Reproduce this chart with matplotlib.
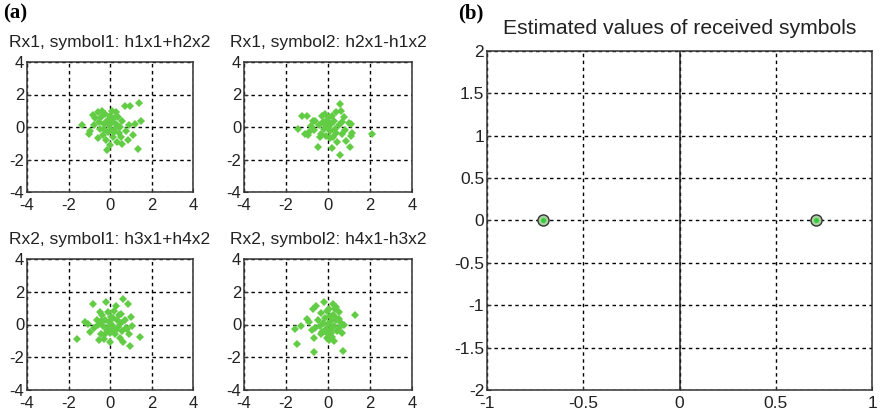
import matplotlib.pyplot as plt

# scatter data
rx1_s1 = [(-1.35, 0.1), (-1.0, -0.4), (-0.95, -0.25), (-0.8, 0.75), (-0.7, 0.55), (-0.6, 0.9),
          (-0.55, 0.3), (-0.5, -0.1), (-0.45, 0.6), (-0.4, 1.0), (-0.35, -0.5), (-0.3, 0.2),
          (-0.25, 0.8), (-0.2, -0.8), (-0.15, -1.4), (-0.1, 0.45), (-0.1, -0.3), (-0.05, 0.1),
          (0.0, 0.7), (0.0, -1.1), (0.05, -0.2), (0.1, 1.0), (0.1, 0.3), (0.15, -0.6),
          (0.2, 0.55), (0.25, -0.1), (0.3, 0.2), (0.35, -0.9), (0.4, 0.6), (0.45, -0.35),
          (0.5, 0.0), (0.55, -0.6), (0.6, -1.05), (0.6, 0.35), (0.7, 1.3), (0.75, -0.25),
          (0.9, 0.1), (0.95, 1.3), (1.1, -0.5), (1.2, 0.2), (1.4, 1.5), (1.5, 0.35),
          (1.35, -1.35), (-0.6, -0.7), (-0.3, -0.15), (0.2, -0.3), (-0.75, 0.1), (0.85, -0.8),
          (0.3, 0.9), (-0.2, 0.3)]
rx1_s2 = [(-1.45, -0.1), (-1.25, 0.7), (-1.0, 0.7), (-1.1, -0.45), (-0.9, -0.3), (-0.8, 0.05),
          (-0.7, 0.35), (-0.65, -0.2), (-0.5, -1.25), (-0.45, 0.15), (-0.35, -0.4), (-0.3, 0.65),
          (-0.25, 0.3), (-0.2, -0.1), (-0.15, 0.8), (-0.1, -0.55), (-0.05, 0.45), (0.0, 0.0),
          (0.05, 0.6), (0.1, -0.25), (0.15, 0.2), (0.2, -1.3), (0.25, -0.6), (0.3, 0.35),
          (0.35, -0.15), (0.4, 0.9), (0.45, -0.9), (0.5, 0.1), (0.55, 1.4), (0.55, -1.7),
          (0.6, 1.0), (0.65, -0.45), (0.75, 0.6), (0.8, -0.2), (0.85, -0.85), (1.0, 0.25),
          (1.1, 0.2), (1.1, -0.55), (1.05, -1.2), (1.15, -0.35), (2.1, -0.4), (-0.6, 0.4),
          (-0.4, -0.6), (0.2, 0.7), (0.4, -0.35), (-0.15, 0.2), (0.65, 0.3), (-0.95, -0.5),
          (0.1, -0.7), (-0.05, 0.35)]
rx2_s1 = [(-1.6, -0.9), (-1.2, 0.15), (-1.05, 0.05), (-0.95, -0.45), (-0.8, 1.25), (-0.75, -0.2),
          (-0.65, 0.3), (-0.55, -0.95), (-0.5, 0.75), (-0.45, -0.6), (-0.4, 0.55), (-0.35, -0.1),
          (-0.3, -0.9), (-0.25, 0.3), (-0.2, 1.35), (-0.15, -0.35), (-0.1, 0.75), (-0.05, 0.15),
          (0.0, -1.05), (0.0, -0.5), (0.05, 0.45), (0.1, 0.0), (0.15, -0.25), (0.2, 0.8),
          (0.25, -0.6), (0.3, 1.15), (0.35, 0.3), (0.4, -0.15), (0.45, 0.6), (0.5, -0.85),
          (0.55, 0.1), (0.6, -0.4), (0.65, 1.55), (0.65, -1.05), (0.7, 0.25), (0.75, -0.2),
          (0.85, 1.25), (0.9, -0.55), (0.95, -1.3), (1.0, 0.45), (1.05, -0.1), (1.45, -0.75),
          (-0.6, 0.0), (-0.25, -0.55), (0.3, -0.35), (0.15, 0.4), (-0.45, 0.2), (0.55, 0.65),
          (0.8, -0.3), (-0.1, -0.2)]
rx2_s2 = [(-1.55, -0.25), (-1.5, -1.2), (-1.3, -0.1), (-1.0, 0.35), (-0.9, 0.15), (-0.75, -0.35),
          (-0.7, 0.95), (-0.65, -0.8), (-0.65, -1.7), (-0.55, 1.15), (-0.5, 0.25), (-0.4, -0.1),
          (-0.35, 0.7), (-0.3, -0.45), (-0.2, 1.35), (-0.15, 0.4), (-0.1, -0.25), (-0.05, 0.8),
          (0.0, 0.05), (0.0, -0.6), (0.05, -0.95), (0.1, 0.5), (0.1, -0.4), (0.15, 0.2),
          (0.2, -0.75), (0.25, 1.25), (0.25, 0.6), (0.3, -0.1), (0.3, -1.0), (0.35, 0.95),
          (0.4, 0.3), (0.45, -0.4), (0.5, 0.75), (0.55, -0.15), (0.6, 0.1), (0.65, -0.5),
          (0.7, -1.6), (0.75, 0.0), (1.3, 0.6), (-0.25, 0.1), (0.2, -0.2), (-0.05, -0.8),
          (0.4, 1.05), (-0.6, -0.2), (0.05, 0.95), (0.5, 0.35), (-0.35, -0.6), (0.15, -0.5),
          (0.35, 0.45), (-0.15, -0.4)]

titles = ['Rx1, symbol1: h1x1+h2x2', 'Rx1, symbol2: h2x1-h1x2',
          'Rx2, symbol1: h3x1+h4x2', 'Rx2, symbol2: h4x1-h3x2']
small_ticks = [-4, -2, 0, 2, 4]

est_x = [-0.7071, 0.7071]
est_y = [0, 0]
big_xticks = [-1, -0.5, 0, 0.5, 1]
big_yticks = [-2, -1.5, -1, -0.5, 0, 0.5, 1, 1.5, 2]

plt.rcParams['font.family'] = ['Liberation Sans', 'DejaVu Sans']
plt.rcParams['axes.unicode_minus'] = False
green = '#62cc44'
text_col = '#222222'
dash = (0, (2.5, 2.5))

fig = plt.figure(figsize=(8.8, 4.17), dpi=100)

def style(ax, fs):
    for s in ax.spines.values():
        s.set_color('#333333')
        s.set_linewidth(1.1)
    ax.tick_params(direction='in', length=3, labelsize=fs, colors='#333333',
                   labelcolor=text_col, pad=2)
    ax.tick_params(axis='x', pad=4)
    ax.grid(True, color='black', linestyle=dash, linewidth=1.0)
    ax.set_axisbelow(True)

# left 2x2 block, positions in pixels (left, top, width, height)
boxes = [(27, 62, 166, 130), (244, 62, 168, 130), (27, 259, 166, 131), (244, 259, 168, 131)]
W, H = 880, 417
for data, title, (l, t, w, h) in zip([rx1_s1, rx1_s2, rx2_s1, rx2_s2], titles, boxes):
    ax = fig.add_axes([l / W, 1 - (t + h) / H, w / W, h / H])
    xs = [p[0] for p in data]
    ys = [p[1] for p in data]
    ax.plot(xs, ys, 'D', color=green, markersize=4.3, markeredgewidth=0)
    ax.set_xlim(-4, 4)
    ax.set_ylim(-4, 4)
    ax.set_xticks(small_ticks)
    ax.set_yticks(small_ticks)
    ax.set_title(title, fontsize=12.5, color=text_col, pad=10.5)
    style(ax, 12)

# right panel
axb = fig.add_axes([487 / W, 1 - 390 / H, 385 / W, 339 / H])
axb.axvline(0, color='#222222', linewidth=1.1)
axb.plot(est_x, est_y, 'o', markersize=8, markerfacecolor='#a8cfa0',
         markeredgecolor='#333333', markeredgewidth=1.0)
axb.plot(est_x, est_y, 'o', markersize=3.5, color='#33cc33', markeredgewidth=0)
axb.set_xlim(-1, 1)
axb.set_ylim(-2, 2)
axb.set_xticks(big_xticks)
axb.set_xticklabels(['-1', '-0.5', '0', '0.5', '1'])
axb.set_yticks(big_yticks)
axb.set_yticklabels(['-2', '-1.5', '-1', '-0.5', '0', '0.5', '1', '1.5', '2'])
axb.set_title('Estimated values of received symbols', fontsize=15.2, color=text_col, pad=12)
style(axb, 12.5)

fig.text(3 / W, 1 - 3 / H, '(a)', fontsize=15, fontweight='bold',
         family='Liberation Serif', va='top', ha='left')
fig.text(458 / W, 1 - 3 / H, '(b)', fontsize=15, fontweight='bold',
         family='Liberation Serif', va='top', ha='left')

fig.savefig('out.png', dpi=100)
